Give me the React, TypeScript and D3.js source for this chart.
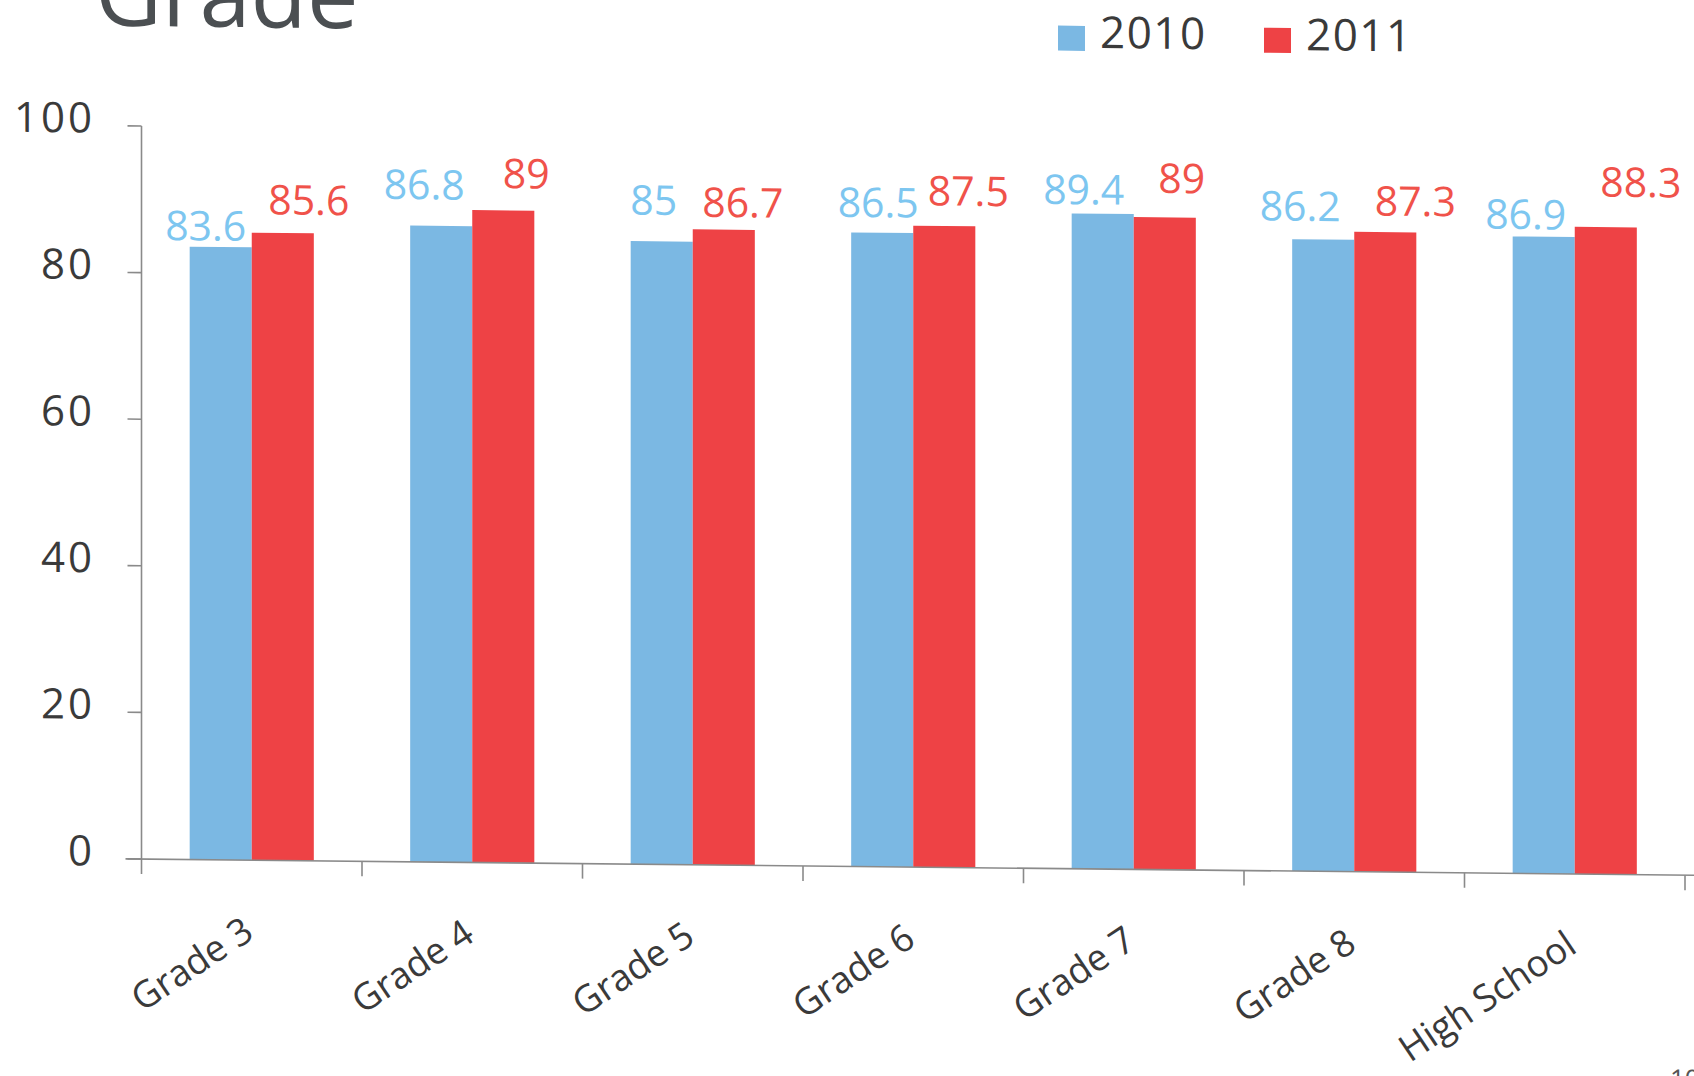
import React from "react";
import * as d3 from "d3";

// Graduation-style rates by grade, two school years
const categories = ["Grade 3", "Grade 4", "Grade 5", "Grade 6", "Grade 7", "Grade 8", "High School"];
const seriesNames = ["2010", "2011"];
const values2010 = [83.6, 86.8, 85, 86.5, 89.4, 86.2, 86.9];
const values2011 = [85.6, 89, 86.7, 87.5, 89, 87.3, 88.3];
const yTicks = [0, 20, 40, 60, 80, 100];

// hand-placed value label nudges [dx, dy] per bar
const labelNudge2010 = [[-15, 12], [-17, -8], [-8, -8], [-4, 3], [-19, 9], [-23, 0], [-18, 11]];
const labelNudge2011 = [[26, 0], [23, -4], [19, 6], [24, -2], [17, -6], [30, 2], [35, -12]];

const W = 1694;
const H = 1076;
const FONT = "'Open Sans', 'DejaVu Sans', sans-serif";

const barColors = ["#7bb8e3", "#ee4245"];
const labelColors = ["#7dc6f0", "#f0524a"];
const axisColor = "#8a8a8a";
const textColor = "#3a3a3a";

export default function App() {
  const x0 = 141.5;
  const x = d3.scaleBand<string>().domain(categories).range([x0, 1685]).padding(0);
  const bw = x.bandwidth();
  const xs = d3
    .scaleBand<string>()
    .domain(seriesNames)
    .range([bw * 0.2185, bw * 0.7815])
    .padding(0);
  const y = d3.scaleLinear().domain([0, 100]).range([859, 126]);
  const base = y(0);

  const skewDeg = 0.6;
  const k = Math.tan((skewDeg * Math.PI) / 180);

  const series = [values2010, values2011];
  const nudges = [labelNudge2010, labelNudge2011];

  return (
    <svg
      width={W}
      height={H}
      style={{ position: "absolute", left: 0, top: 0, display: "block", background: "#fff" }}
      fontFamily={FONT}
    >
      <rect x={0} y={0} width={W} height={H} fill="#fff" />
      <g transform={`translate(0, ${-k * x0}) skewY(${skewDeg})`}>
        {/* title, cropped by the top edge */}
        <text x={95} y={26} fontSize={92} fill="#4b4f52">
          Grade
        </text>

        {/* legend */}
        {seriesNames.map((s, i) => {
          const lx = i === 0 ? 1058 : 1264;
          return (
            <g key={s}>
              <rect x={lx} y={16} width={27} height={25} fill={barColors[i]} />
              <text x={lx + 42} y={38} fontSize={44} letterSpacing={1.5} fill={textColor}>
                {s}
              </text>
            </g>
          );
        })}

        {/* bars */}
        {categories.map((c, ci) =>
          seriesNames.map((s, si) => {
            const v = series[si][ci];
            const bx = (x(c) as number) + (xs(s) as number);
            return (
              <rect
                key={c + s}
                x={bx}
                y={y(v)}
                width={xs.bandwidth()}
                height={base - y(v)}
                fill={barColors[si]}
              />
            );
          })
        )}

        {/* value labels */}
        {categories.map((c, ci) =>
          seriesNames.map((s, si) => {
            const v = series[si][ci];
            const cx = (x(c) as number) + (xs(s) as number) + xs.bandwidth() / 2;
            const [dx, dy] = nudges[si][ci];
            return (
              <text
                key={"l" + c + s}
                x={cx + dx}
                y={y(v) - 18.5 + dy}
                textAnchor="middle"
                fontSize={41}
                fill={labelColors[si]}
              >
                {String(v)}
              </text>
            );
          })
        )}

        {/* y axis */}
        <line x1={x0} x2={x0} y1={y(100)} y2={base + 15} stroke={axisColor} strokeWidth={1.6} />
        {yTicks.map((t) => (
          <g key={t}>
            <line x1={x0 - 14} x2={x0} y1={y(t)} y2={y(t)} stroke={axisColor} strokeWidth={1.6} />
            <text
              x={95}
              y={y(t) + 7}
              textAnchor="end"
              fontSize={42}
              letterSpacing={3}
              fill={textColor}
            >
              {t}
            </text>
          </g>
        ))}

        {/* x axis */}
        <line x1={x0 - 16} x2={W + 20} y1={base} y2={base} stroke={axisColor} strokeWidth={1.6} />
        {categories.map((c) => (
          <line
            key={"t" + c}
            x1={(x(c) as number) + bw}
            x2={(x(c) as number) + bw}
            y1={base}
            y2={base + 15}
            stroke={axisColor}
            strokeWidth={1.6}
          />
        ))}
        {categories.map((c) => {
          const cx = (x(c) as number) + bw / 2;
          return (
            <text
              key={"c" + c}
              transform={`translate(${cx + 4}, ${base + 77}) rotate(-34)`}
              textAnchor="end"
              fontSize={37}
              fill={textColor}
            >
              {c}
            </text>
          );
        })}

        {/* page number, cropped by the bottom edge */}
        <text x={1670} y={1072} fontSize={26} fill="#555">
          10
        </text>
      </g>
    </svg>
  );
}
